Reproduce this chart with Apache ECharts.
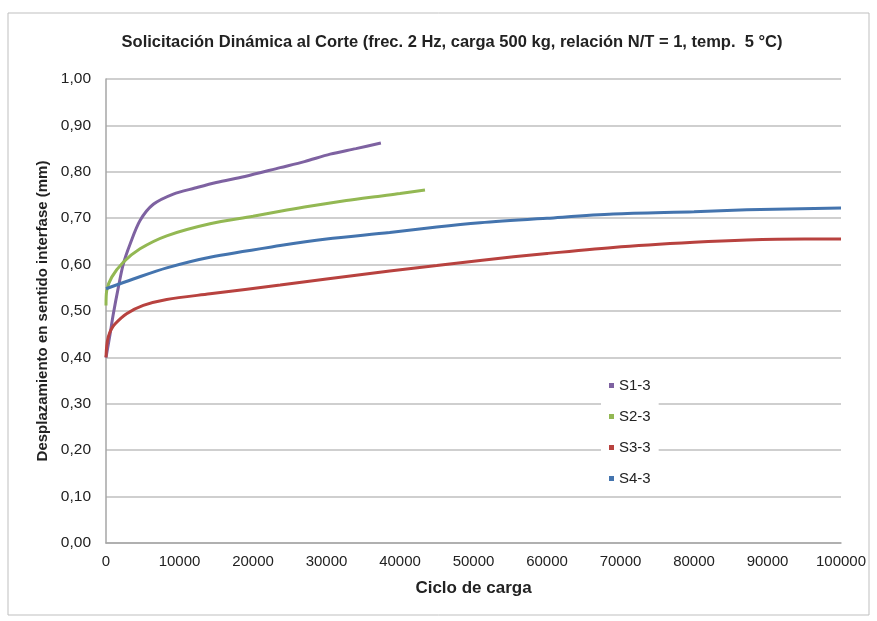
<!DOCTYPE html>
<html>
<head>
<meta charset="utf-8">
<script src="https://cdn.jsdelivr.net/npm/echarts@6/dist/echarts.min.js"></script>
<style>
  html, body { margin: 0; padding: 0; background: #fff; }
  #chart { width: 877px; height: 621px; }
</style>
</head>
<body>
<div id="chart"></div>
<script>
// series names
var seriesNames = ['S1-3', 'S2-3', 'S3-3', 'S4-3'];

// load cycles (x) and displacement in mm (y)
var s1Cycles = [0, 500, 1000, 1680, 2350, 3270, 4630, 6440, 9160, 12100, 15000, 18900, 23700, 27000, 30500, 34000, 37400];
var s1Values = [0.40, 0.445, 0.494, 0.551, 0.601, 0.644, 0.695, 0.730, 0.752, 0.765, 0.777, 0.790, 0.809, 0.822, 0.838, 0.850, 0.862];

var s2Cycles = [0, 100, 780, 2350, 4630, 8260, 14150, 20000, 23700, 27000, 32700, 37000, 40000, 43400];
var s2Values = [0.512, 0.544, 0.573, 0.605, 0.634, 0.662, 0.688, 0.704, 0.715, 0.724, 0.738, 0.747, 0.753, 0.761];

var s3Cycles = [0, 100, 310, 700, 1220, 2800, 5070, 8260, 14150, 23700, 30000, 38600, 45000, 50900, 60000, 69000, 80000, 87200, 95000, 100000];
var s3Values = [0.40, 0.425, 0.444, 0.46, 0.472, 0.494, 0.512, 0.525, 0.537, 0.556, 0.569, 0.586, 0.598, 0.609, 0.624, 0.637, 0.648, 0.653, 0.655, 0.655];

var s4Cycles = [0, 3720, 8260, 14150, 23700, 30000, 38600, 45000, 50900, 60000, 69000, 80000, 87200, 100000];
var s4Values = [0.548, 0.569, 0.593, 0.616, 0.641, 0.655, 0.669, 0.681, 0.690, 0.700, 0.709, 0.714, 0.718, 0.722];

var seriesColors = ['#7E62A1', '#93B853', '#B8423F', '#4474AE'];

function pairs(xs, ys) {
    var out = [];
    for (var i = 0; i < xs.length; i++) {
        out.push([xs[i], ys[i]]);
    }
    return out;
}

var seriesData = [
    pairs(s1Cycles, s1Values),
    pairs(s2Cycles, s2Values),
    pairs(s3Cycles, s3Values),
    pairs(s4Cycles, s4Values)
];

var myChart = echarts.init(document.getElementById('chart'));

var series = [];
for (var i = 0; i < seriesNames.length; i++) {
    series.push({
        name: seriesNames[i],
        type: 'line',
        data: seriesData[i],
        smooth: 0.3,
        showSymbol: false,
        symbol: 'rect',
        symbolSize: 5,
        color: seriesColors[i],
        lineStyle: { width: 3, color: seriesColors[i] }
    });
}

var option = {
    animation: false,
    textStyle: { fontFamily: 'Liberation Sans, Arial, sans-serif' },
    graphic: [{
        type: 'rect',
        shape: { x: 8, y: 13, width: 861, height: 602 },
        style: { fill: 'none', stroke: '#BFBFBF', lineWidth: 1 },
        z: -1
    }],
    title: {
        text: 'Solicitación Dinámica al Corte (frec. 2 Hz, carga 500 kg, relación N/T = 1, temp.  5 °C)',
        left: 447,
        textAlign: 'center',
        top: 29,
        textStyle: { fontSize: 16.5, fontWeight: 'bold', color: '#222' }
    },
    legend: {
        orient: 'vertical',
        left: 601,
        top: 372,
        padding: [6, 8, 6, 8],
        itemGap: 16,
        itemWidth: 5,
        itemHeight: 5,
        icon: 'rect',
        backgroundColor: '#fff',
        textStyle: { fontSize: 15, color: '#222' },
        data: seriesNames
    },
    grid: { left: 106, right: 36, top: 79, bottom: 78 },
    xAxis: {
        type: 'value',
        min: 0,
        max: 100000,
        interval: 10000,
        name: 'Ciclo de carga',
        nameLocation: 'middle',
        nameGap: 37,
        nameTextStyle: { fontSize: 17, fontWeight: 'bold', color: '#222' },
        axisLine: { lineStyle: { color: '#A6A6A6', width: 1.5 } },
        axisTick: { show: false },
        axisLabel: {
            fontSize: 15,
            color: '#222',
            margin: 11,
            formatter: function (v) { return String(v); }
        },
        splitLine: { show: false }
    },
    yAxis: {
        type: 'value',
        min: 0,
        max: 1,
        interval: 0.1,
        name: 'Desplazamiento en sentido interfase (mm)',
        nameLocation: 'middle',
        nameGap: 54,
        nameTextStyle: { fontSize: 15, fontWeight: 'bold', color: '#222' },
        axisLine: { show: true, lineStyle: { color: '#A6A6A6', width: 1.5 } },
        axisTick: { show: false },
        axisLabel: {
            fontSize: 15.5,
            color: '#222',
            margin: 15,
            formatter: function (v) { return v.toFixed(2).replace('.', ','); }
        },
        splitLine: { lineStyle: { color: '#BFBFBF', width: 1.5 } }
    },
    series: series
};

myChart.setOption(option);
</script>
</body>
</html>
